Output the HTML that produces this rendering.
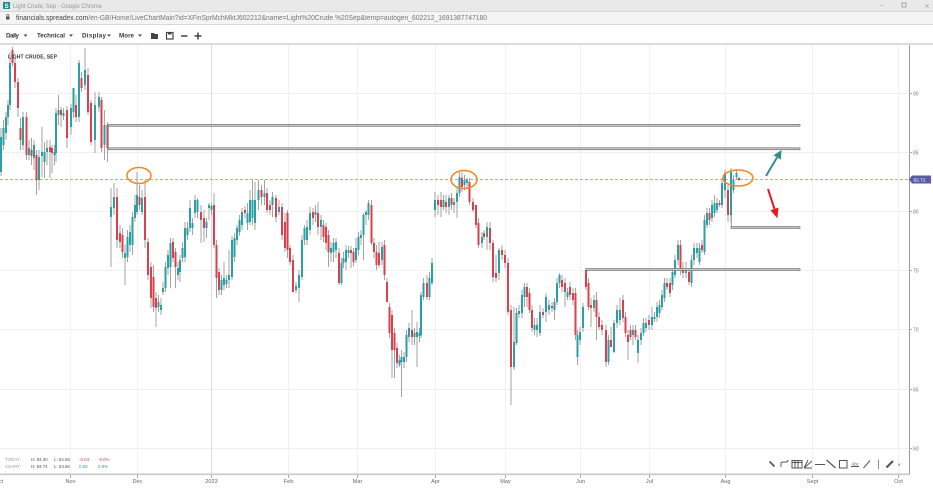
<!DOCTYPE html>
<html><head><meta charset="utf-8"><style>
html,body{margin:0;padding:0;background:#fff;width:933px;height:488px;overflow:hidden}
svg{display:block}
text{font-family:"Liberation Sans",sans-serif}
</style></head><body>
<svg width="933" height="488" viewBox="0 0 933 488" xmlns="http://www.w3.org/2000/svg">
<!-- title bar -->
<rect x="0" y="0" width="933" height="11" fill="#e9e9e9"/>
<rect x="3" y="2" width="7" height="7" fill="#1f8b91"/>
<text x="4.6" y="8" font-size="6" font-weight="bold" fill="#fff">S</text>
<text x="13" y="7.8" font-size="6" fill="#9a9a9a" textLength="89">Light Crude, Sep - Google Chrome</text>
<text x="880" y="7.5" font-size="6" fill="#999">–</text>
<rect x="902" y="3" width="4" height="4" fill="none" stroke="#999" stroke-width="0.8"/>
<text x="924.5" y="8" font-size="6" fill="#999">✕</text>
<!-- url bar -->
<rect x="0" y="11" width="933" height="13" fill="#f4f4f4"/>
<line x1="0" y1="11.5" x2="933" y2="11.5" stroke="#d6d6d6" stroke-width="1"/>
<line x1="0" y1="24.5" x2="933" y2="24.5" stroke="#d6d6d6" stroke-width="1"/>
<rect x="6" y="16.5" width="3.5" height="3" fill="#555"/>
<path d="M6.8 16.5v-1.2a1 1 0 0 1 2 0v1.2" fill="none" stroke="#555" stroke-width="0.7"/>
<text x="16" y="20" font-size="7" fill="#444" textLength="471" lengthAdjust="spacingAndGlyphs">financials.spreadex.com<tspan fill="#777">/en-GB/Home/LiveChartMain?id=XFinSprMchMktJ602212&amp;name=Light%20Crude.%20Sep&amp;temp=autogen_602212_1691387747180</tspan></text>
<!-- toolbar -->
<g font-size="6.2" font-weight="bold" fill="#3a3a3a">
<text x="6" y="37.5" textLength="13">Daily</text>
<text x="37" y="37.5" textLength="28">Technical</text>
<text x="82" y="37.5" textLength="24">Display</text>
<text x="119" y="37.5" textLength="15">More</text>
</g>
<g fill="#444">
<path d="M23.5 34.5h4l-2 2.2z"/><path d="M69 34.5h4l-2 2.2z"/><path d="M107 34.5h4l-2 2.2z"/><path d="M138 34.5h4l-2 2.2z"/>
<path d="M151 33h3l1 1h3v5h-7z"/>
<rect x="166.5" y="32.5" width="6.5" height="6.5" fill="none" stroke="#444" stroke-width="1.2"/>
<rect x="168" y="32.5" width="3.5" height="2"/>
<rect x="181" y="35.2" width="6.5" height="1.5"/>
<rect x="194.5" y="35.2" width="7" height="1.5"/><rect x="197.2" y="32.5" width="1.5" height="7"/>
</g>
<rect x="0" y="43" width="933" height="2" fill="#dcdcdc"/>
<!-- grid -->
<g stroke="#f0f0f0" stroke-width="1">
<path d="M0 93.5H909M0 152.5H909M0 211.5H909M0 270.5H909M0 329.5H909M0 389.5H909M0 448.5H909"/>
<path d="M70.5 45V474M137.5 45V474M288.5 45V474M357.5 45V474M435.5 45V474M505.5 45V474M580.5 45V474M649.5 45V474M725.5 45V474M812.5 45V474M898.5 45V474"/>
</g>
<path d="M211.5 45V474" stroke="#dadada" stroke-width="1"/>
<!-- axes -->
<path d="M909.5 45V475" stroke="#9a9a9a" stroke-width="1"/>
<rect x="0" y="473.5" width="910" height="1.6" fill="#c8c8c8"/>
<g stroke="#aaa" stroke-width="1">
<path d="M70.5 475V478M137.5 475V478M211.5 475V478M288.5 475V478M357.5 475V478M435.5 475V478M505.5 475V478M580.5 475V478M649.5 475V478M725.5 475V478M812.5 475V478M898.5 475V478"/>
<path d="M909 93.5H912M909 152.5H912M909 211.5H912M909 270.5H912M909 329.5H912M909 389.5H912M909 448.5H912"/>
</g>
<g font-size="5" fill="#777">
<text x="913" y="95.3">90</text><text x="913" y="154.3">85</text><text x="913" y="213.3">80</text><text x="913" y="272.3">75</text><text x="913" y="331.3">70</text><text x="913" y="391.3">65</text><text x="913" y="450.3">60</text>
</g>
<g font-size="5.6" fill="#666" text-anchor="middle">
<text x="1" y="483">ct</text><text x="70.5" y="483">Nov</text><text x="137.5" y="483">Dec</text><text x="211.5" y="483">2023</text><text x="288.5" y="483">Feb</text><text x="357.5" y="483">Mar</text><text x="435.5" y="483">Apr</text><text x="505.5" y="483">May</text><text x="580.5" y="483">Jun</text><text x="649.5" y="483">Jul</text><text x="725.5" y="483">Aug</text><text x="812.5" y="483">Sept</text><text x="898.5" y="483">Oct</text>
</g>
<!-- current price line -->
<path d="M0 179.5H909" stroke="#a9a9de" stroke-width="0.9" stroke-dasharray="3,2"/>
<path d="M909 179.5L912 175.5H931V183.5H912Z" fill="#5b5ba9"/>
<text x="913.5" y="181.3" font-size="4.8" fill="#fff">82.72</text>
<!-- candles: wicks -->
<path fill="none" stroke="#a3a3a3" stroke-width="1" d="M1 128V176M3.5 120V150M6 112V140M8 100V125M10 52V110M12.5 47V66M15 58V88M18 78V117M20.5 118V150M23 112V150M26.5 112V160M29 140V160M31.5 138V165M34 140V170M36.5 150V195M39 150V190M42 127V177M44.5 142V178M47 140V165M50 140V178M52 145V173M54.5 145V165M56 108V162M58.5 95V125M61 107V127M63.5 108V120M67 106V148M71 104V135M73.5 88V118M76 95V122M79 60V122M81.5 72V92M85 48V90M88 68V115M91 100V145M95 92V153M99 92V112M101.5 97V152M104.5 110V160M107.5 122V162
M111 188V267M114 183V215M117 188V248M120 225V248M122.5 228V258M125 245V285M127.5 230V262M130 225V252M132.5 212V255M135 195V222M137 172V215M139.5 185V210M142 190V215M145 180V248M148 238V280M151 262V308M153.5 265V312M156 292V327M158.5 295V312M161 298V315M163 282V295M165.5 262V292M168 250V275M170.5 238V288M173 238V262M175.5 248V288M178 262V280M180 255V282M182.5 242V262M185 222V262M187.5 222V240M190 200V232M192.5 218V235M195 195V218M197.5 198V218M201 205V243M204 210V242M206.5 218V238M209 203V220M211.5 203V215M214 193V248M216.5 240V298M219 268V295M221.5 275V295M224 262V290M226.5 275V288M229 250V288M232 236V280M234.5 233V262M237 225V245M239.5 215V236M242 208V230
M245 206V218M247.5 203V230M250 190V225M252.5 180V225M255 182V230M258.5 180V210M261.5 185V205M264.5 180V205M267 188V213M270 200V215M272.5 192V217M276 195V222M279 200V215M282 203V240M285 213V252M287.5 210V258M290 245V265M293 255V292M296 282V293M299 270V302M302 235V280M304.5 225V245M307 220V245M310 207V235M313 208V225M315.5 205V222M318 202V235M321 215V240M323.5 220V242M326 223V250M328.5 230V267M331 242V262M333.5 238V262M336 238V258M339 248V285M341.5 258V285M343.5 252V268M346 245V270M348.5 246V258M351 246V268M353.5 248V266M356 238V263M358.5 232V255M361 230V245M363.5 213V260M366 210V225M368.5 200V220M371.5 200V245M374 238V258M376.5 245V270M379 242V268M382 242V265M384.5 240V280M387 278V302M389.5 303V338M392 310V378M394.5 328V378M397 343V368M399.5 355V367M401.5 350V397M404 352V368M406.5 330V362M409 323V342M412 310V345M414.5 328V345M417 322V367M419.5 328V342M421 292V338M423.5 278V300M427 275V300M429.5 272V300M432 258V285
M435 192V217M438 195V215M441 192V217M443.5 195V210M446 195V213M449 195V215M451.5 193V210M454 198V213M457 188V218M459.5 172V197M462 172V192M464.5 175V190M467 178V188M469.5 178V205M473 198V212M476 205V228M478.5 218V248M482 232V248M484 230V240M487 222V250M490 222V250M493 240V282M496 255V282M499 248V280M502 245V260M505 250V268M508 258V315M511 305V405M514 307V370M516.5 308V345M519 305V318M522 290V318M524.5 283V307M527 283V307M529.5 288V313M532 305V332M534.5 318V335M537 318V337M540 305V336M543 308V318M546 293V322M549 300V315M552 302V312M554.5 298V320M557 278V305M559.5 273V288M562 275V292M565 278V307M567.5 288V300M570 282V300M573 288V305M575.5 288V340M577.5 330V365M580 327V345M583 303V332M586 268V290M588.5 278V310M591 298V327M594 295V312M596.5 292V340M599 312V330M602 320V335M606 325V367M608.5 335V365M611 327V347M614 320V353M617 305V328M620 298V325M623 295V322M625.5 312V337M628 330V360M630.5 325V340M633 325V345M635.5 325V340M638 335V363M641 328V345M643.5 318V336M646 318V332M649 315V330M652 307V330M654.5 312V322M657 302V322M659.5 300V318M662 290V310M664.5 278V302M667 278V290M670 278V297M672.5 268V290M675 255V278M678 240V265M680.5 240V275M683 262V278M686 262V278M689 268V285M691.5 255V287M694 243V265M697 243V258M699.5 243V265M702 240V253M704.5 215V255M707 208V228M709.5 208V225M712 200V222M714.5 195V217M717 198V213M719.5 200V207M722 178V208M725 170V198M728 185V222M731 168V222M733.5 175V193M736.5 170V180M739 177V181"/>
<!-- teal bodies -->
<path fill="none" stroke="#2a9fa4" stroke-width="2" d="M1 137V172M3.5 128V145M6 117V133M8 105V117M10 63V105M23 117V145M29 148V155M34 145V158M39 157V180M42 152V156M44.5 152V162M47 148V152M54.5 152V155M56 113V153M58.5 110V115M63.5 113V116M71 108V127M73.5 88V112M79 63V117M85 70V85M95 105V140M99 97V107M104.5 125V145
M111 207V217M114 197V208M125 253V258M127.5 237V257M130 232V245M132.5 217V245M135 205V218M137 195V212M142 198V212M158.5 302V307M161 305V310M163 288V292M165.5 267V288M168 255V268M170.5 243V267M178 268V275M180 260V272M182.5 248V258M185 228V257M187.5 228V235M190 208V228M192.5 223V228M195 200V213M197.5 200V212M206.5 222V228M209 205V208M211.5 206V210M221.5 280V290M224 278V285M226.5 280V284M229 275V280M232 240V277M234.5 238V257M237 228V240M239.5 220V232M242 212V225
M247.5 213V223M250 200V222M252.5 200V218M255 200V223M258.5 190V200M264.5 193V197M272.5 197V205M279 207V212M296 286V290M299 275V288M302 240V277M304.5 228V240M307 227V240M310 213V230M315.5 212V215M321 220V227M331 248V253M333.5 243V252M336 242V250M341.5 263V283M343.5 258V263M346 250V262M348.5 250V253M356 248V260M358.5 237V250M361 235V238M363.5 215V235M366 212V215M368.5 203V215M382 247V260M399.5 360V365M401.5 357V362M404 357V362M406.5 335V357M409 328V337M414.5 333V337M417 332V337M419.5 333V336M421 295V335M423.5 283V297M429.5 278V297M432 263V283
M435 200V210M443.5 200V207M449 198V207M454 202V205M457 193V202M459.5 177V193M464.5 180V185M467 180V183M482 237V243M487 227V237M499 250V273M514 342V367M516.5 313V343M519 311V314M522 295V313M524.5 287V297M534.5 325V330M537 325V330M540 312V333M546 297V312M549 305V310M554.5 302V310M557 283V302M559.5 275V283M567.5 292V297M577.5 335V357M580 332V340M583 307V328M594 300V308M608.5 340V362M614 323V352M617 310V323M620 310V320M633 330V335M638 340V353M641 333V340M643.5 323V333M646 323V328M652 317V325M654.5 317V319M657 307V317M659.5 305V313M662 295V307M664.5 283V298M672.5 272V285M675 260V275M678 245V260M686 270V273M691.5 260V283M694 248V260M697 248V253M699.5 248V262M704.5 220V252M707 213V225M712 205V218M714.5 203V213M717 203V210M722 183V205M725 173V190M731 172V215M733.5 180V190M736.5 173V177"/>
<!-- red bodies -->
<path fill="none" stroke="#d8414d" stroke-width="2" d="M12.5 50V63M15 63V82M18 82V108M20.5 128V140M26.5 117V155M31.5 150V156M36.5 155V180M50 147V152M52 148V153M61 110V115M67 110V138M76 105V117M81.5 78V88M88 75V112M91 103V142M101.5 100V148M107.5 125V148
M117 197V240M120 233V242M122.5 235V252M139.5 197V205M145 197V240M148 242V275M151 267V298M153.5 277V307M156 298V308M173 242V258M175.5 252V267M201 212V220M204 218V228M214 205V245M216.5 245V278M219 272V290
M245 210V213M261.5 190V197M267 193V210M270 205V210M276 198V217M282 207V235M285 222V248M287.5 213V250M290 248V262M293 260V292M313 212V218M318 213V227M323.5 225V237M326 227V243M328.5 235V252M339 253V283M351 250V253M353.5 252V262M371.5 205V243M374 243V252M376.5 252V265M379 253V265M384.5 245V275M387 282V302M389.5 307V333M392 315V350M394.5 333V350M397 348V363M412 330V337M427 283V297
M438 200V205M441 200V207M446 202V207M451.5 198V205M462 178V187M469.5 182V202M473 202V210M476 205V225M478.5 223V245M484 233V237M490 228V243M493 243V277M496 273V278M502 250V255M505 255V263M508 263V312M511 310V367M527 287V297M529.5 293V310M532 310V328M543 312V315M552 306V308M562 280V287M565 283V292M570 287V295M573 293V300M575.5 293V335M586 270V287M588.5 283V307M591 305V308M596.5 300V317M599 317V327M602 325V330M606 330V362M611 340V347M623 300V318M625.5 317V333M628 335V342M630.5 330V337M635.5 330V337M649 320V325M667 283V287M670 283V293M680.5 245V270M683 268V273M689 272V282M702 245V250M709.5 213V220M719.5 203V205M728 190V215M739 178V180"/>
<!-- drawings: horizontal zones -->
<g fill="#c4c4c4" stroke="#6a6a6a" stroke-width="0.6">
<rect x="108" y="124.3" width="692" height="2"/>
<rect x="108" y="147.8" width="692" height="2"/>
<rect x="731" y="226.5" width="69" height="2"/>
<rect x="586" y="268.5" width="214" height="2"/>
</g>
<path d="M108.3 125V149M731.3 215V227" stroke="#8a8a8a" stroke-width="0.9"/>
<!-- ellipses -->
<g fill="none" stroke="#f5861f" stroke-width="1.5">
<ellipse cx="139" cy="175.5" rx="12" ry="8"/>
<ellipse cx="464" cy="179.5" rx="13" ry="9"/>
<ellipse cx="738" cy="178" rx="15" ry="8"/>
</g>
<!-- arrows -->
<path d="M766 176L777 157.5" stroke="#338f8c" stroke-width="2"/>
<path d="M781 151L780.4 158.8L774.4 155.2Z" fill="#338f8c" stroke="#338f8c" stroke-width="1"/>
<path d="M768 189L774.5 209" stroke="#e8161e" stroke-width="2"/>
<path d="M777 217L777.9 208.3L771.3 210.5Z" fill="#e8161e" stroke="#e8161e" stroke-width="1"/>
<!-- chart title -->
<text x="8" y="58.5" font-size="5" font-weight="bold" fill="#333" textLength="49">LIGHT CRUDE, SEP</text>
<!-- stats -->
<g font-size="4.4">
<text x="5" y="461" fill="#999">TODAY:</text>
<text x="31" y="461" fill="#555">H: 83.30</text>
<text x="54" y="461" fill="#555">L: 82.56</text>
<text x="79" y="461" fill="#d8414d">-0.04</text>
<text x="98" y="461" fill="#d8414d">-0.0%</text>
<text x="5" y="468" fill="#999">CHART:</text>
<text x="31" y="468" fill="#555">H: 93.74</text>
<text x="54" y="468" fill="#555">L: 63.66</text>
<text x="79" y="468" fill="#2a9fa4">0.69</text>
<text x="98" y="468" fill="#2a9fa4">0.8%</text>
</g>
<!-- drawing toolbar -->
<g stroke="#555" stroke-width="1" fill="none">
<path d="M769.5 461.5L774.5 466.5" stroke-width="1.6"/>
<path d="M781 467V464Q781 462 783 462H786Q788 462 788 460" />
<rect x="792" y="460.5" width="10" height="7.5"/>
<path d="M792 462.5H802M795 460.5V468M798 460.5V468"/>
<path d="M804 468L812 461M804 468H812M804 468L808 460"/>
<path d="M815 464.5H825"/>
<path d="M826.5 460L835.5 468" stroke-width="1.2"/>
<rect x="839.5" y="460.5" width="7.5" height="7.5"/>
<path d="M851 466.5H859"/>
<path d="M863.5 468L870 460.5"/>
<path d="M878.5 459.5V469" stroke="#888"/>
<path d="M886.5 467.5L893 461" stroke-width="2.2"/>
</g>
<text x="851.5" y="465.5" font-size="4.2" fill="#555">Abc</text>
<text x="897.5" y="467" font-size="6" fill="#777">×</text>
</svg>
</body></html>
